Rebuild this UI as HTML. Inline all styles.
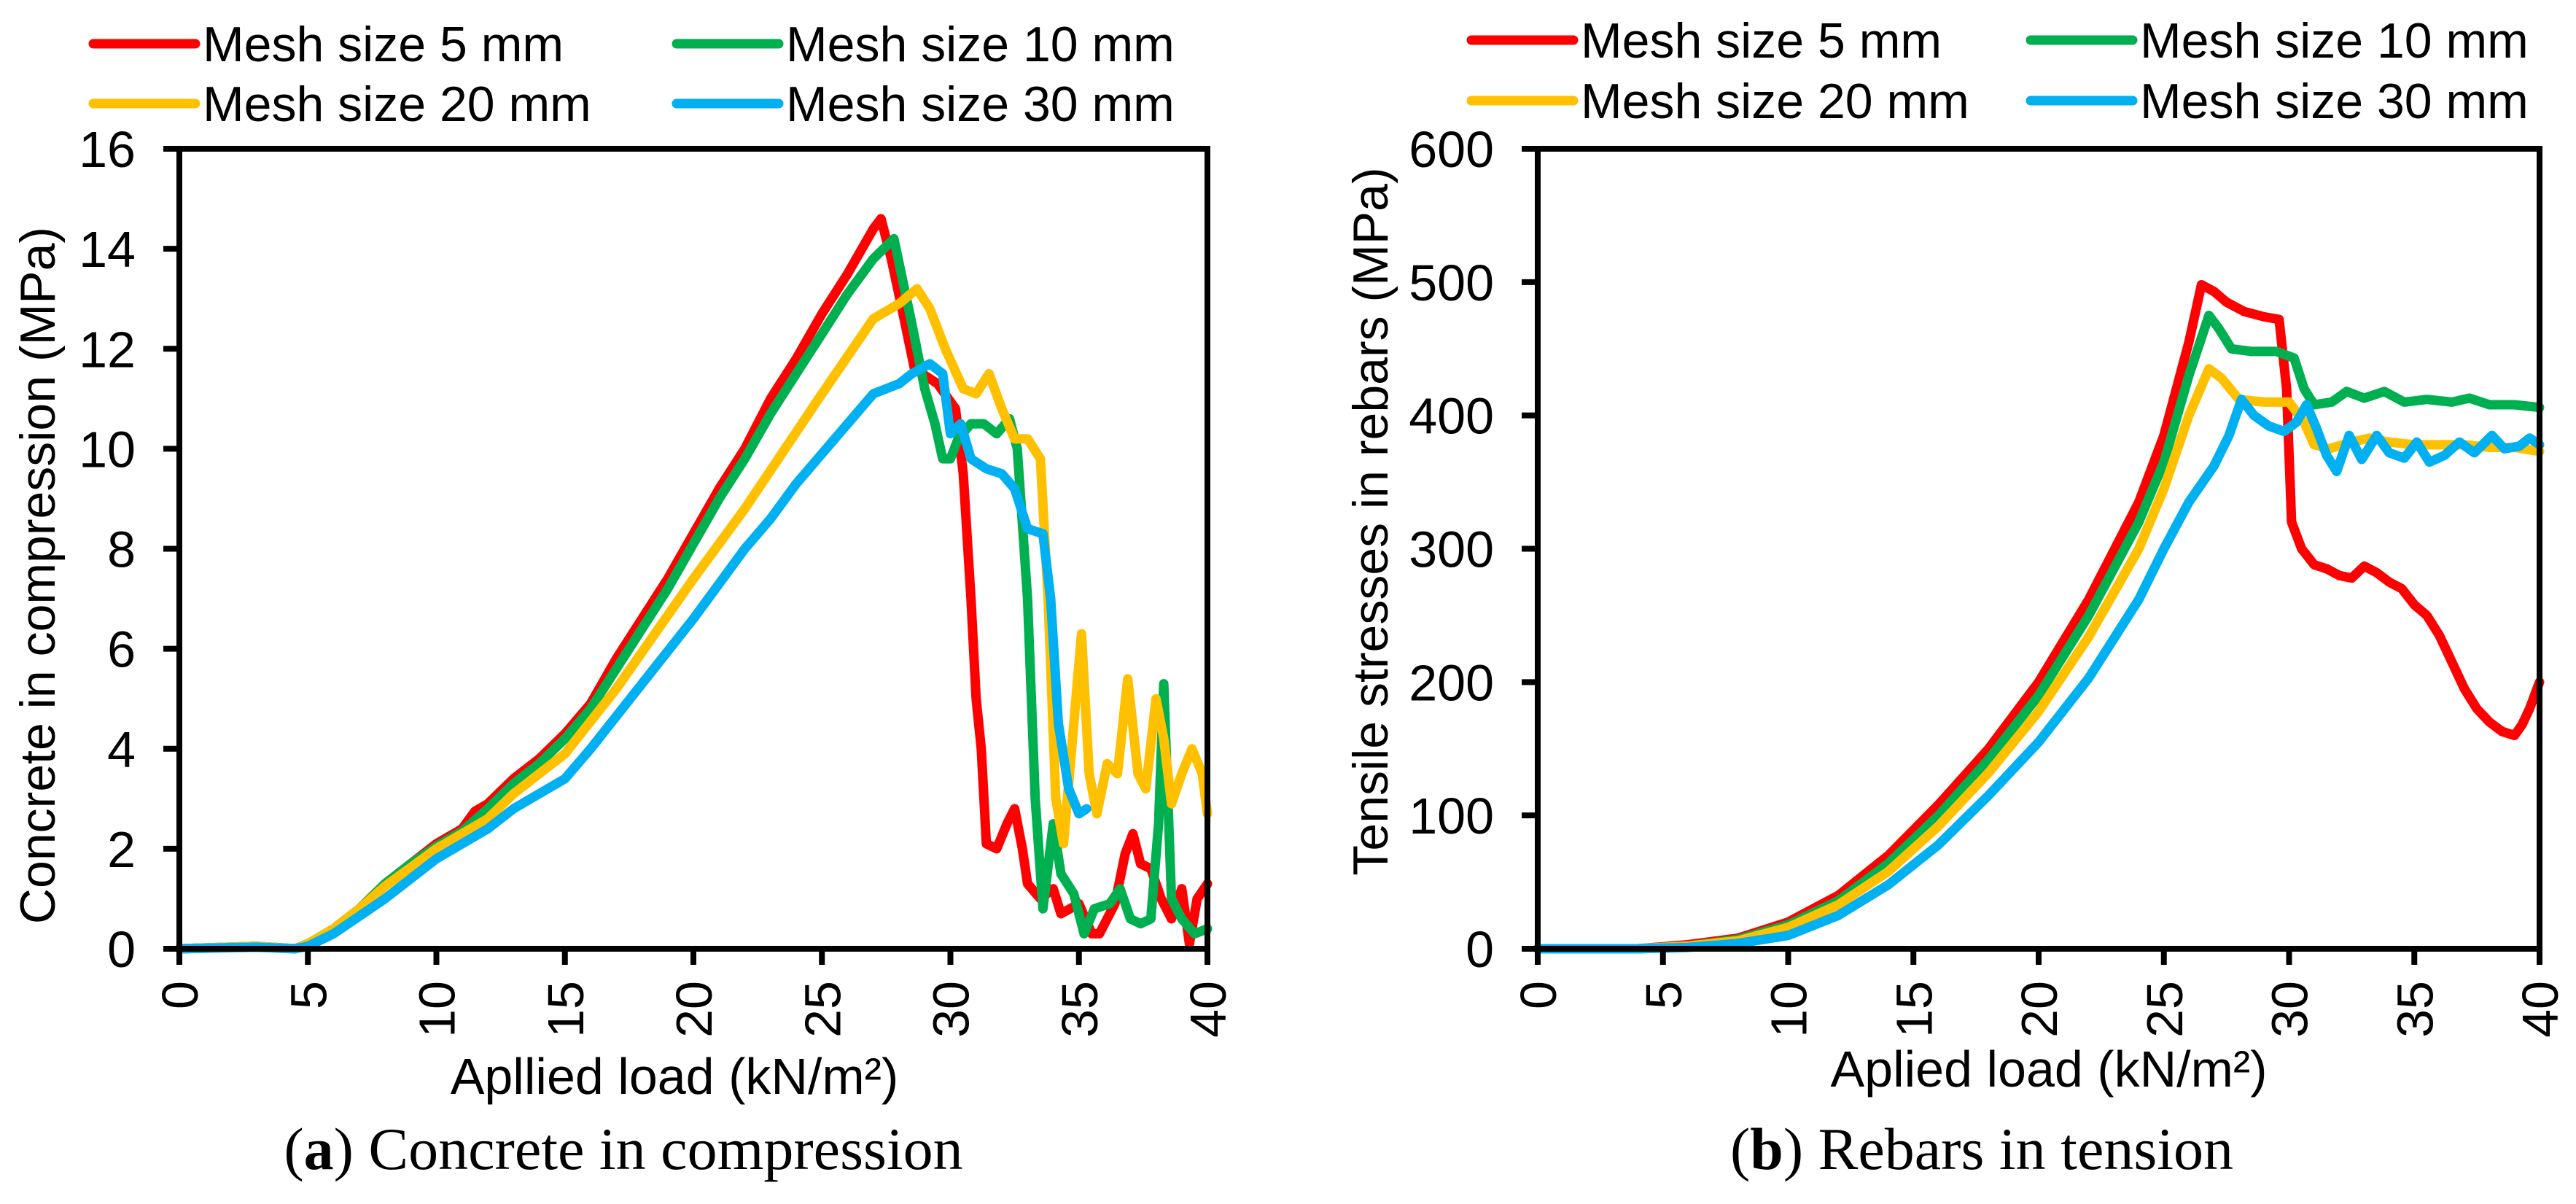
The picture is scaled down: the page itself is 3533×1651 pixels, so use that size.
<!DOCTYPE html>
<html><head><meta charset="utf-8"><style>
html,body{margin:0;padding:0;background:#fff;}
svg{display:block;}
text{font-family:"Liberation Sans",Arial,sans-serif;fill:#000;}
.cap{font-family:"Liberation Serif",serif;}
</style></head><body>
<svg id="fig" width="3533" height="1651" viewBox="0 0 3533 1651" xmlns="http://www.w3.org/2000/svg"></svg>
<script>
const seriesNames = ["Mesh size 5 mm","Mesh size 10 mm","Mesh size 20 mm","Mesh size 30 mm"];
const seriesColors = ["#FF0000","#00B050","#FFC000","#00B0F0"];
const xTicks = [0,5,10,15,20,25,30,35,40];
const yTicksA = [0,2,4,6,8,10,12,14,16];
const yTicksB = [0,100,200,300,400,500,600];

const aRedX=[0,3,4.5,5,6,7,8,9,10,11,11.5,12,13,14,15,16,17,18,19,20,21,22,23,24,25,26,27,27.3,27.7,28.2,28.6,29.5,30.2,30.5,30.8,31,31.2,31.4,31.8,32.2,32.5,32.8,33,33.5,34,34.3,35,35.5,35.8,36.4,36.8,37.1,37.4,37.8,38.2,38.6,39,39.3,39.6,40];
const aRedY=[0,0.05,0,0.1,0.4,0.8,1.3,1.7,2.1,2.4,2.75,2.9,3.4,3.8,4.3,4.9,5.8,6.6,7.4,8.3,9.2,10.0,11.0,11.8,12.7,13.5,14.4,14.6,13.8,12.6,11.6,11.3,10.8,9.5,7.0,5.0,4.0,2.1,2.0,2.5,2.8,2.0,1.3,1.0,1.2,0.7,0.9,0.3,0.3,0.9,1.9,2.3,1.7,1.6,1.0,0.6,1.2,0.1,1.0,1.3];
const aGreenX=[0,3,4.5,5,6,7,8,9,10,11,12,13,14,15,16,17,18,19,20,21,22,23,24,25,26,27,27.8,28.5,29,29.4,29.7,30,30.3,30.8,31.3,31.8,32.3,32.6,33,33.3,33.6,34,34.3,34.8,35.2,35.6,36.2,36.6,37,37.4,37.8,38.1,38.3,38.6,39,39.5,40];
const aGreenY=[0,0.05,0,0.1,0.4,0.8,1.3,1.7,2.05,2.35,2.8,3.3,3.7,4.2,4.8,5.6,6.4,7.2,8.1,9.0,9.8,10.7,11.5,12.3,13.1,13.8,14.2,12.5,11.2,10.5,9.8,9.8,10.2,10.5,10.5,10.3,10.6,10.0,7.0,3.0,0.8,2.5,1.5,1.1,0.3,0.8,0.9,1.2,0.6,0.5,0.6,2.5,5.3,1.0,0.6,0.3,0.4];
const aYellowX=[0,3,4.5,5,6,7,8,10,12,13,15,17,20,22,25,27,28,28.7,29.2,29.8,30.5,31,31.5,32,32.5,33,33.5,33.8,34.1,34.4,34.8,35.1,35.4,35.7,36.1,36.5,36.9,37.3,37.6,38,38.3,38.6,39,39.4,39.8,40];
const aYellowY=[0,0.05,0,0.1,0.4,0.8,1.25,2.0,2.6,3.1,3.9,5.2,7.4,8.8,11.1,12.6,12.9,13.2,12.8,12.0,11.2,11.1,11.5,10.8,10.2,10.2,9.8,7.0,3.0,2.1,4.5,6.3,3.5,2.7,3.7,3.5,5.4,3.5,3.2,5.0,4.2,2.9,3.5,4.0,3.5,2.7];
const aBlueX=[0,3,4.5,5,6,8,10,12,13,15,16,18,20,22,23,24,25,26,27,28,28.5,29.2,29.7,30,30.4,30.8,31.4,32,32.5,33,33.6,33.9,34.2,34.6,35,35.3];
const aBlueY=[0,0.03,0,0.05,0.3,1.0,1.8,2.4,2.8,3.4,4.0,5.3,6.6,8.0,8.6,9.3,9.9,10.5,11.1,11.3,11.5,11.7,11.5,10.3,10.5,9.8,9.6,9.5,9.2,8.4,8.3,7.0,4.5,3.2,2.7,2.8];

const bRedX=[0,4,6,8,10,12,14,16,18,20,22,24,25,26,26.5,27,27.5,28.2,29,29.6,29.9,30.1,30.5,31,31.5,32,32.5,33,33.5,34,34.5,35,35.5,36,36.5,37,37.5,38,38.5,39,39.3,39.6,40];
const bRedY=[0,0,3,8,20,40,70,108,150,200,262,335,385,455,498,493,485,478,474,472,420,320,300,288,285,280,278,287,282,275,270,258,250,235,215,195,180,170,163,160,168,180,200];
const bGreenX=[0,4,6,8,10,12,14,16,18,20,22,24,25,26,26.8,27.2,27.7,28.5,29.5,30.2,30.6,31,31.7,32.3,33,33.8,34.6,35.5,36.5,37.2,38,39,40];
const bGreenY=[0,0,2,7,18,36,64,100,142,190,250,320,365,430,475,465,450,448,448,443,420,408,410,418,413,418,410,412,410,413,408,408,406];
const bYellowX=[0,4,6,8,10,12,14,16,18,20,22,24,25,26,26.8,27.3,28,29,30,30.6,31,31.6,32.5,33.2,34,35,36,37,38,39,40];
const bYellowY=[0,0,2,6,16,33,58,92,132,178,234,300,345,400,435,428,412,410,410,395,378,375,380,383,380,378,378,378,376,376,373];
const bBlueX=[0,4,6,8,10,12,14,16,18,20,22,24,25,26,27,27.6,28.1,28.6,29.2,29.8,30.3,30.7,31.1,31.5,31.9,32.4,32.9,33.5,34,34.6,35.1,35.6,36.2,36.8,37.4,38.1,38.6,39.2,39.6,40];
const bBlueY=[0,0,1,4,10,25,48,78,115,155,203,262,300,335,362,385,412,400,392,388,395,408,390,370,358,385,367,385,372,368,380,365,370,380,372,385,375,377,383,378];

const NS="http://www.w3.org/2000/svg";
const svg=document.getElementById('fig');
function mk(tag,attrs,parent){const e=document.createElementNS(NS,tag);for(const k in attrs)e.setAttribute(k,attrs[k]);(parent||svg).appendChild(e);return e;}

function chart(cfg){
  const g=mk('g',{});
  
  
  const L=cfg.L,R=cfg.R,T=204,B=1301;
  const sx=v=>L+(v-0)/40*(R-L);
  const sy=v=>B-v/cfg.ymax*(B-T);
  const lx=[cfg.legX1,cfg.legX2], ly=[cfg.legY1,cfg.legY2];
  for(let i=0;i<4;i++){
    const col=i%2,row=Math.floor(i/2);
    const lg=mk('g',{},g);
    
    
    mk('line',{x1:lx[col],x2:lx[col]+140,y1:ly[row],y2:ly[row],stroke:seriesColors[i],'stroke-width':13,'stroke-linecap':'round'},lg);
    const t=mk('text',{x:lx[col]+150,y:ly[row]+24,'font-size':68},lg);t.textContent=seriesNames[i];
  }
  for(let i=0;i<4;i++){
    const xs=cfg.xs[i],ys=cfg.ys[i];
    const d=xs.map((x,j)=>(j?'L':'M')+sx(x).toFixed(1)+' '+sy(ys[j]).toFixed(1)).join(' ');
    const p=mk('path',{d:d,fill:'none',stroke:seriesColors[i],'stroke-width':13,'stroke-linejoin':'round','stroke-linecap':'round'},g);
    
    
  }
  const fr=mk('rect',{x:L,y:T,width:R-L,height:B-T,fill:'none',stroke:'#000','stroke-width':8},g);
  
  
  xTicks.forEach(v=>{
    mk('line',{x1:sx(v),x2:sx(v),y1:B,y2:B+22,stroke:'#000','stroke-width':8},g);
    const t=mk('text',{x:0,y:0,'font-size':70,'text-anchor':'end',transform:`translate(${sx(v)+25},1345) rotate(-90)`},g);
    
    
    t.textContent=v;
  });
  cfg.yt.forEach(v=>{
    mk('line',{x1:L-22,x2:L,y1:sy(v),y2:sy(v),stroke:'#000','stroke-width':8},g);
    const t=mk('text',{x:L-60,y:sy(v)+25,'font-size':70,'text-anchor':'end'},g);
    
    
    t.textContent=v;
  });
  const xt=mk('text',{x:cfg.xtX,y:cfg.xtY,'font-size':70,'text-anchor':'middle'},g);
  
  
  xt.textContent=cfg.xtitle;
  const yt=mk('text',{x:0,y:0,'font-size':68,'text-anchor':'middle',transform:`translate(${cfg.ytX},${cfg.ytY}) rotate(-90)`},g);
  
  
  yt.textContent=cfg.ytitle;
  const cp=mk('text',{x:cfg.capX,y:1603,'font-size':82,'text-anchor':'middle','class':'cap'},g);
  
  
  cp.innerHTML='(<tspan font-weight="bold">'+cfg.capL+'</tspan>) '+cfg.cap;
}
chart({name:'chart-concrete-compression',L:246,R:1656,ymax:16,yt:yTicksA,
  xs:[aRedX,aGreenX,aYellowX,aBlueX],ys:[aRedY,aGreenY,aYellowY,aBlueY],
  legX1:128,legX2:928,legY1:60,legY2:142,
  xtitle:'Apllied load (kN/m²)',xtX:925,xtY:1500,ytitle:'Concrete in compression (MPa)',ytX:75,ytY:789,
  capX:855,capL:'a',cap:'Concrete in compression'});
chart({name:'chart-rebars-tension',L:2109,R:3483,ymax:600,yt:yTicksB,
  xs:[bRedX,bGreenX,bYellowX,bBlueX],ys:[bRedY,bGreenY,bYellowY,bBlueY],
  legX1:2018,legX2:2785,legY1:55,legY2:138,
  xtitle:'Aplied load (kN/m²)',xtX:2810,xtY:1490,ytitle:'Tensile stresses in rebars (MPa)',ytX:1903,ytY:715,
  capX:2718,capL:'b',cap:'Rebars in tension'});
</script>
</body></html>
